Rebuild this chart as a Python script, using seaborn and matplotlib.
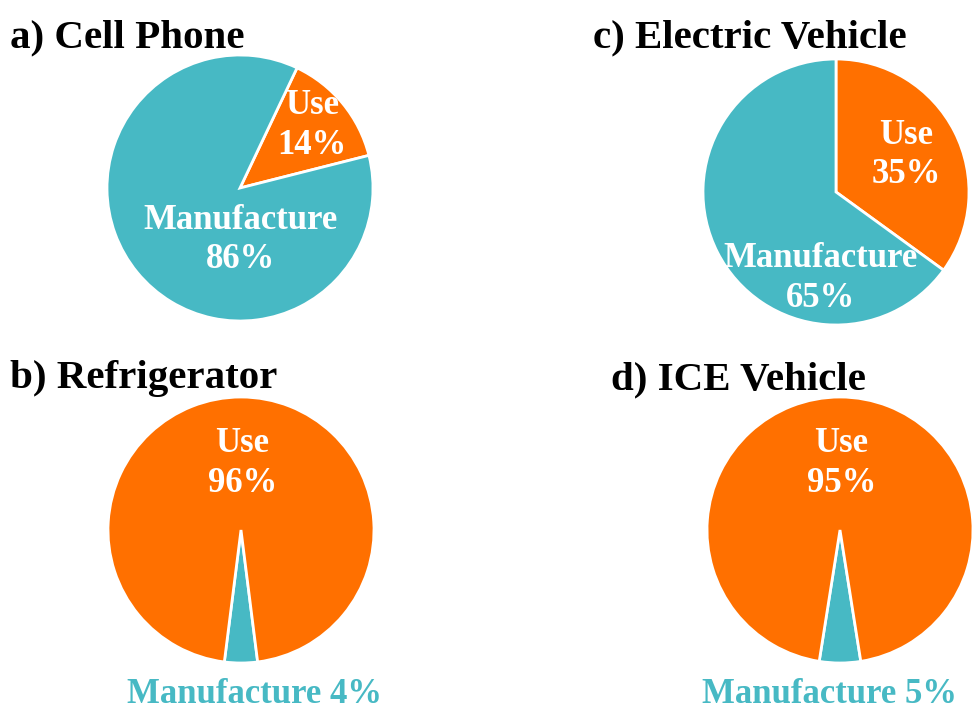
import matplotlib
matplotlib.use("Agg")
import matplotlib.pyplot as plt
import seaborn as sns

# data
titles = ["a) Cell Phone", "c) Electric Vehicle", "b) Refrigerator", "d) ICE Vehicle"]
use_pct = [14, 35, 96, 95]
manuf_pct = [86, 65, 4, 5]

TEAL = "#47B9C4"
ORANGE = "#FF7000"

sns.set_theme(style="white")
plt.rcParams["font.family"] = ["Liberation Serif", "DejaVu Serif"]
plt.rcParams["font.weight"] = "bold"

W, H = 980, 717
fig = plt.figure(figsize=(W / 100, H / 100), dpi=100)

R = 133  # pie radius in px
centers = [(240, 188), (836, 192), (241, 530), (840, 530)]
title_pos = [(10, 47), (593, 47), (10, 388), (611, 389)]


def add_pie(i):
    cx, cy = centers[i]
    ax = fig.add_axes([(cx - R) / W, (H - cy - R) / H, 2 * R / W, 2 * R / H])
    u, m = use_pct[i], manuf_pct[i]
    if i == 0:
        # use wedge sits on the upper right, going counterclockwise
        vals, cols, start, ccw = [u, m], [ORANGE, TEAL], 14.2, True
    elif i == 1:
        vals, cols, start, ccw = [u, m], [ORANGE, TEAL], 90, False
    else:
        # small manufacture wedge centred at the bottom
        vals, cols, start, ccw = [m, u], [TEAL, ORANGE], -90 - m * 3.6 / 2, True
    ax.pie(vals, colors=cols, startangle=start, counterclock=ccw, radius=1,
           wedgeprops=dict(edgecolor="white", linewidth=2))
    ax.set_xlim(-1, 1)
    ax.set_ylim(-1, 1)
    ax.axis("off")
    return ax


lab = dict(color="white", fontsize=25, fontweight="bold", ha="center", va="center",
           linespacing=1.25)

for i in range(4):
    ax = add_pie(i)
    tx, ty = title_pos[i]
    fig.text(tx / W, 1 - ty / H, titles[i], fontsize=29.5, fontweight="bold",
             ha="left", va="baseline", color="black")
    u, m = use_pct[i], manuf_pct[i]
    if i == 0:
        ax.text(0.54, 0.47, f"Use\n{u}%", **lab)
        ax.text(0.0, -0.39, f"Manufacture\n{m}%", **lab)
    elif i == 1:
        ax.text(0.53, 0.28, f"Use\n{u}%", **lab)
        ax.text(-0.12, -0.65, f"Manufacture\n{m}%", **lab)
    else:
        ax.text(0.01, 0.50, f"Use\n{u}%", **lab)
        out = dict(lab, color=TEAL)
        ax.text(0.1 if i == 2 else -0.08, -1.24, f"Manufacture {m}%", clip_on=False, **out)

fig.savefig("out.png", dpi=100, facecolor="white")
